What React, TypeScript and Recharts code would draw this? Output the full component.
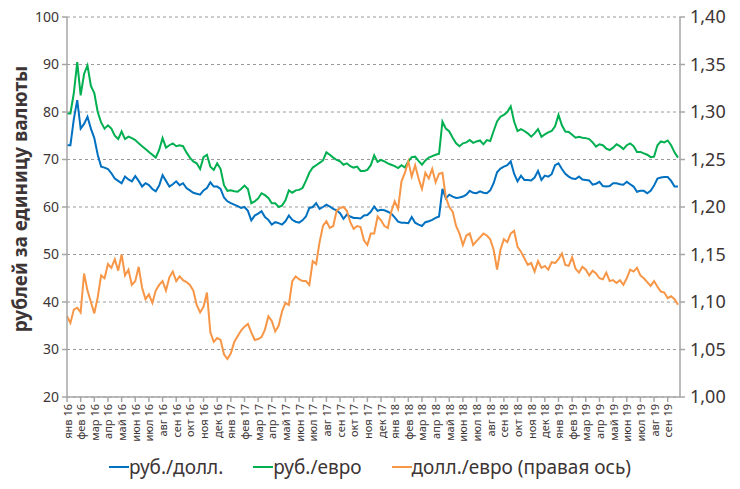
import React from "react";
import {
  LineChart,
  Line,
  XAxis,
  YAxis,
  CartesianGrid,
  Label,
} from "recharts";

const MONTHS = [
  "янв 16", "фев 16", "мар 16", "апр 16", "май 16", "июн 16", "июл 16", "авг 16", "сен 16", "окт 16", "ноя 16", "дек 16",
  "янв 17", "фев 17", "мар 17", "апр 17", "май 17", "июн 17", "июл 17", "авг 17", "сен 17", "окт 17", "ноя 17", "дек 17",
  "янв 18", "фев 18", "мар 18", "апр 18", "май 18", "июн 18", "июл 18", "авг 18", "сен 18", "окт 18", "ноя 18", "дек 18",
  "янв 19", "фев 19", "мар 19", "апр 19", "май 19", "июн 19", "июл 19", "авг 19", "сен 19",
];

// weekly readings, 4 per month, starting at the beginning of Jan 2016
const RUB_USD = [
  73.0, 73.0, 78.5, 82.5, 76.5, 77.5, 79.0, 76.5, 74.5, 71.0, 68.5, 68.3,
  68.0, 67.1, 66.0, 65.5, 65.0, 66.4, 65.8, 65.4, 66.5, 65.5, 64.3, 65.0,
  64.6, 63.8, 63.3, 64.5, 66.7, 65.5, 64.3, 64.8, 65.4, 64.6, 65.0, 64.0,
  63.5, 63.0, 62.8, 62.6, 63.5, 64.0, 65.2, 64.3, 64.3, 63.8, 62.0, 61.2,
  60.8, 60.5, 60.2, 59.8, 60.0, 59.2, 57.2, 58.2, 58.6, 59.1, 57.9, 57.3,
  56.3, 56.8, 56.6, 56.3, 57.0, 58.2, 57.3, 56.9, 56.7, 57.2, 58.0, 59.8,
  60.0, 60.8, 59.6, 60.0, 60.5, 60.1, 59.6, 59.3, 58.7, 57.5, 58.4, 58.0,
  57.7, 57.7, 57.6, 58.2, 58.3, 59.0, 60.1, 59.2, 59.4, 59.3, 59.0, 58.6,
  57.8, 56.9, 56.7, 56.7, 56.6, 57.9, 56.7, 56.3, 56.0, 56.8, 57.0, 57.3,
  57.7, 58.0, 63.8, 61.8, 62.6, 62.2, 61.9, 62.0, 62.2, 62.6, 63.4, 63.0,
  62.9, 63.3, 63.0, 62.9, 63.5, 65.0, 67.3, 68.1, 68.5, 68.8, 69.6, 67.0,
  65.4, 66.6, 65.7, 65.7, 65.6, 66.2, 67.6, 65.7, 66.6, 66.4, 66.9, 68.8,
  69.2, 68.0, 67.0, 66.4, 66.0, 65.9, 66.4, 65.8, 65.7, 65.6, 64.7, 64.9,
  65.3, 64.4, 64.3, 64.4, 65.0, 65.0, 64.8, 64.7, 65.3, 64.8, 64.3, 63.2,
  63.4, 63.4, 62.9, 63.4, 64.5, 66.0, 66.2, 66.3, 66.3, 65.5, 64.3, 64.3,
];

const RUB_EUR = [
  79.7, 79.7, 84.0, 90.5, 83.5, 88.0, 89.8, 85.5, 84.0, 80.0, 77.8, 76.5,
  77.2, 76.5, 75.0, 74.3, 75.9, 74.3, 74.8, 74.5, 74.1, 73.4, 72.8, 72.2,
  71.6, 71.0, 70.4, 72.0, 74.5, 72.5, 73.0, 73.4, 72.8, 73.0, 72.8, 71.5,
  70.4, 69.6, 69.2, 68.0, 70.5, 71.0, 68.5, 67.8, 69.2, 68.0, 64.6, 63.4,
  63.5, 63.3, 63.2, 63.8, 64.5, 63.8, 60.8, 61.2, 61.8, 62.9, 62.5, 61.9,
  60.8, 60.8, 60.0, 60.3, 61.4, 63.5, 63.0, 63.5, 63.6, 64.0, 65.5, 67.2,
  68.3, 68.8, 69.3, 69.8, 71.5, 71.0, 70.4, 69.9, 69.6, 68.9, 69.2, 68.6,
  68.3, 68.5, 67.6, 67.6, 67.8, 68.8, 70.9, 69.5, 69.9, 69.6, 69.2, 68.9,
  68.6, 68.2, 68.8, 68.3, 69.6, 70.5, 70.6, 69.7, 68.9, 69.8, 70.4, 70.7,
  71.0, 71.2, 78.0, 76.5, 75.9, 74.6, 73.4, 72.8, 73.4, 73.6, 74.1, 73.5,
  73.8, 74.0, 73.2, 74.1, 73.9, 76.0, 78.0, 79.0, 79.4, 80.0, 81.2, 78.0,
  76.0, 76.4, 76.0, 75.5, 74.8, 75.5, 76.4, 74.8, 75.3, 75.7, 76.0, 77.0,
  79.4, 77.2, 75.9, 75.8, 75.2, 74.6, 74.8, 74.6, 74.5, 74.3, 73.6, 72.7,
  73.2, 73.0, 72.3, 72.0, 72.5, 73.2, 72.8, 72.2, 73.0, 73.4, 72.8, 71.6,
  71.6, 71.3, 71.0, 70.5, 70.6, 73.0, 73.8, 73.6, 74.0, 73.0, 71.5, 70.4,
];

const USD_EUR = [
  1.085, 1.078, 1.092, 1.094, 1.089, 1.130, 1.112, 1.100, 1.088, 1.105, 1.128, 1.125,
  1.140, 1.136, 1.145, 1.133, 1.150, 1.128, 1.134, 1.118, 1.122, 1.137, 1.115, 1.103,
  1.108, 1.099, 1.112, 1.118, 1.122, 1.112, 1.126, 1.132, 1.122, 1.127, 1.123, 1.121,
  1.118, 1.112, 1.097, 1.089, 1.095, 1.110, 1.068, 1.058, 1.062, 1.060, 1.045, 1.040,
  1.046, 1.058, 1.064, 1.070, 1.074, 1.077, 1.068, 1.060, 1.061, 1.063, 1.071, 1.085,
  1.080, 1.069, 1.075, 1.090, 1.099, 1.097, 1.122, 1.127, 1.124, 1.122, 1.122, 1.118,
  1.143, 1.140, 1.163, 1.180, 1.185, 1.178, 1.180, 1.196, 1.199, 1.200, 1.196, 1.184,
  1.177, 1.180, 1.179, 1.165, 1.160, 1.172, 1.172, 1.190, 1.186, 1.180, 1.178, 1.195,
  1.206, 1.198, 1.227, 1.236, 1.248, 1.232, 1.244, 1.230, 1.219, 1.236, 1.230, 1.240,
  1.226, 1.235, 1.236, 1.210, 1.200, 1.195, 1.180, 1.172, 1.160, 1.170, 1.172, 1.160,
  1.164, 1.168, 1.172, 1.170, 1.166, 1.155, 1.134, 1.155, 1.166, 1.163, 1.172, 1.175,
  1.158, 1.153, 1.146, 1.139, 1.141, 1.132, 1.143, 1.136, 1.138, 1.134, 1.142, 1.141,
  1.145, 1.151, 1.139, 1.138, 1.147, 1.135, 1.131, 1.137, 1.134, 1.128, 1.133, 1.130,
  1.125, 1.124, 1.131, 1.122, 1.123, 1.120, 1.123, 1.118, 1.125, 1.134, 1.132, 1.136,
  1.128, 1.125, 1.121, 1.117, 1.122, 1.116, 1.111, 1.110, 1.104, 1.106, 1.103, 1.097,
];

const LEFT_TICKS = [20, 30, 40, 50, 60, 70, 80, 90, 100];
const RIGHT_TICKS = [1.0, 1.05, 1.1, 1.15, 1.2, 1.25, 1.3, 1.35, 1.4];

const SERIES = [
  { key: "usd", name: "руб./долл.", color: "#0070C0" },
  { key: "eur", name: "руб./евро", color: "#00B050" },
  { key: "eurusd", name: "долл./евро (правая ось)", color: "#F79646" },
];

const data = RUB_USD.map((v, i) => ({
  t: i / 4,
  usd: v,
  eur: RUB_EUR[i],
  eurusd: USD_EUR[i],
}));

const TEXT = "#3d3535";
const AXIS = "#a6a6a6";
const FONT = "'Noto Sans', sans-serif";

function MonthTick({ x, y, payload }: any) {
  return (
    <text
      x={x}
      y={y}
      transform={`rotate(-90, ${x}, ${y})`}
      textAnchor="end"
      dominantBaseline="central"
      fontSize={11}
      fill={TEXT}
      fontFamily={FONT}
    >
      {MONTHS[payload.value]}
    </text>
  );
}

function YTitle({ viewBox }: any) {
  const cx = 20;
  const cy = viewBox.y + viewBox.height / 2 - 8;
  return (
    <text
      x={cx}
      y={cy}
      transform={`rotate(-90, ${cx}, ${cy})`}
      textAnchor="middle"
      dominantBaseline="central"
      fontSize={19}
      fontWeight="bold"
      fill={TEXT}
      fontFamily={FONT}
    >
      рублей за единицу валюты
    </text>
  );
}

export default function App() {
  return (
    <div style={{ position: "absolute", left: 0, top: 0, width: 740, height: 489, background: "#fff", fontFamily: FONT }}>
      <LineChart width={740} height={489} data={data} margin={{ top: 17, right: 0, bottom: 42, left: 0 }}>
        <CartesianGrid yAxisId="left" vertical={false} stroke="#9a9a9a" strokeDasharray="3 3" />
        <XAxis
          dataKey="t"
          type="number"
          domain={[0, 44.9]}
          ticks={MONTHS.map((_, i) => i)}
          interval={0}
          tick={<MonthTick />}
          height={50}
          tickSize={5}
          tickMargin={2}
          stroke={AXIS}
          strokeWidth={1.5}
        />
        <YAxis
          yAxisId="left"
          domain={[20, 100]}
          ticks={LEFT_TICKS}
          width={67}
          tickSize={5}
          tickMargin={3}
          tick={{ fontSize: 14, fill: TEXT, fontFamily: FONT }}
          stroke={AXIS}
          strokeWidth={1.5}
        >
          <Label content={<YTitle />} />
        </YAxis>
        <YAxis
          yAxisId="right"
          orientation="right"
          domain={[1.0, 1.4]}
          ticks={RIGHT_TICKS}
          width={60}
          tickSize={5}
          tickMargin={5}
          tickFormatter={(v: number) => v.toFixed(2).replace(".", ",")}
          tick={{ fontSize: 18, fill: TEXT, fontFamily: FONT }}
          stroke={AXIS}
          strokeWidth={1.5}
        />
        <Line yAxisId="left" dataKey="usd" name="руб./долл." stroke="#0070C0" strokeWidth={2} dot={false} isAnimationActive={false} />
        <Line yAxisId="left" dataKey="eur" name="руб./евро" stroke="#00B050" strokeWidth={2} dot={false} isAnimationActive={false} />
        <Line yAxisId="right" dataKey="eurusd" name="долл./евро (правая ось)" stroke="#F79646" strokeWidth={2} dot={false} isAnimationActive={false} />
      </LineChart>
      <div
        style={{
          position: "absolute",
          top: 453,
          left: 0,
          width: 740,
          display: "flex",
          justifyContent: "center",
          gap: 30,
          fontSize: 19,
          color: TEXT,
          lineHeight: "28px",
        }}
      >
        {SERIES.map((s) => (
          <div key={s.key} style={{ display: "flex", alignItems: "center" }}>
            <span style={{ display: "inline-block", width: 20, height: 2.5, background: s.color }} />
            <span>{s.name}</span>
          </div>
        ))}
      </div>
    </div>
  );
}
